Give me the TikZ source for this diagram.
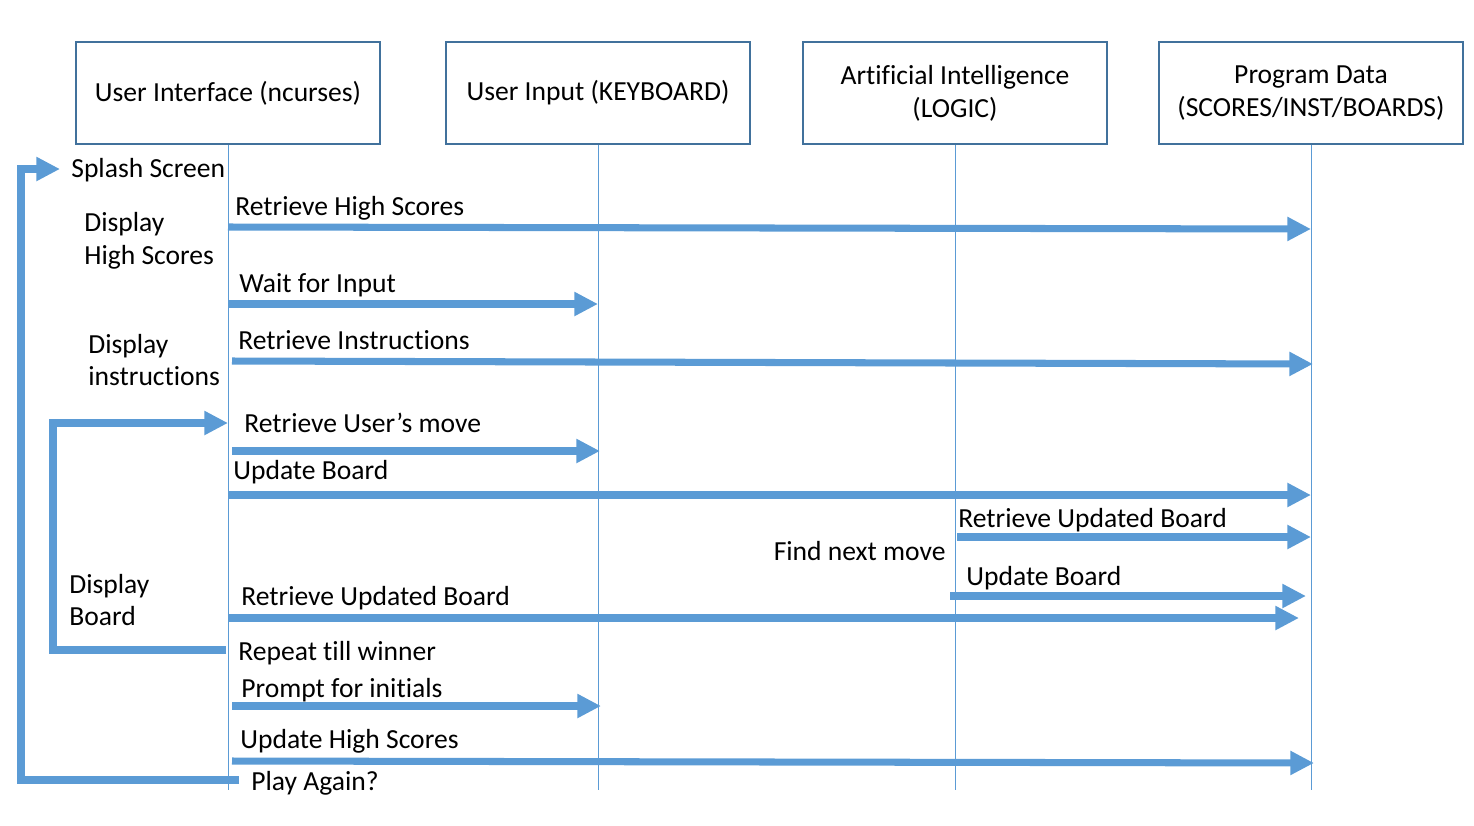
\documentclass[tikz,border=0pt]{standalone}
\usepackage{fontspec}
\setmainfont{Carlito}[Ligatures=NoCommon]
\usetikzlibrary{arrows.meta}

\definecolor{lineblue}{HTML}{5B9BD5}
\definecolor{boxblue}{HTML}{41719C}

\tikzset{
	actor/.style={draw=boxblue, line width=1.1pt, minimum width=6.08cm, minimum height=2.04cm, align=center},
	lifeline/.style={draw=lineblue, line width=0.5pt},
	msg/.style={draw=lineblue, line width=4pt, -{Triangle[length=13.5pt,width=13pt]}},
	lbl/.style={anchor=base west, inner sep=0pt},
	side/.style={anchor=west, inner sep=0pt, align=left},
}

\begin{document}
\begin{tikzpicture}[x=0.02cm, y=-0.02cm, font=\fontsize{15.7}{18.7}\selectfont]
	\useasboundingbox (0,0) rectangle (1474,825);
	
	% Participants
	\node[actor] (ui) at (228,93) {User Interface (ncurses)};
	\node[actor] (kb) at (598,93) {User Input (KEYBOARD)};
	\node[actor] (ai) at (955,93) {Artificial Intelligence\\(LOGIC)};
	\node[actor] (pd) at (1311,93) {Program Data\\(SCORES/INST/BOARDS)};
	
	% Lifelines
	\foreach \p in {ui,kb,ai,pd} {
		\draw[lifeline] (\p.south) -- (\p |- 0,790);
	}
	
	% Screens on the left
	\node[lbl] (splash) at (71,177) {Splash Screen};
	\node[side] (dhs) at (84,241) {Display\\High Scores};
	\node[side] (dins) at (88,360) {Display\\instructions};
	\node[side] (dbrd) at (69,600) {Display\\Board};
	
	% High scores
	\node[lbl] (m1) at (235,215) {Retrieve High Scores};
	\draw[msg] (ui |- 0,227) -- (pd |- 0,229);
	
	\node[lbl] (m2) at (239,292) {Wait for Input};
	\draw[msg] (ui |- 0,304) -- (kb |- 0,304);
	
	% Instructions
	\node[lbl] (m3) at (238,349) {Retrieve Instructions};
	\draw[msg] (232,361) -- (1313,364);
	
	% Game loop
	\node[lbl] (m4) at (244,432) {Retrieve User’s move};
	\draw[msg] (232,451) -- (600,451);
	
	\node[lbl] (m5) at (233,479) {Update Board};
	\draw[msg] (ui |- 0,495) -- (pd |- 0,495);
	
	\node[lbl] (m6) at (958,527) {Retrieve Updated Board};
	\draw[msg] (957,537) -- (pd |- 0,537);
	
	\node[anchor=base east, inner sep=0pt] (think) at (946,560) {Find next move};
	
	\node[lbl] (m7) at (966,585) {Update Board};
	\draw[msg] (950,596) -- (1306,596);
	
	\node[lbl] (m8) at (241,605) {Retrieve Updated Board};
	\draw[msg] (228,618) -- (1299,618);
	
	\node[lbl] (rep) at (238,660) {Repeat till winner};
	\draw[msg] (226,650) -| (53,423) -- (ui |- 0,423);
	
	% End of game
	\node[lbl] (m9) at (241,697) {Prompt for initials};
	\draw[msg] (232,706) -- (601,706);
	
	\node[lbl] (m10) at (240,748) {Update High Scores};
	\draw[msg] (232,761) -- (1314,763);
	
	\node[lbl] (again) at (251,790) {Play Again?};
	\draw[msg] (239,780) -| (21,169) -- (60,169);
	
\end{tikzpicture}
\end{document}
